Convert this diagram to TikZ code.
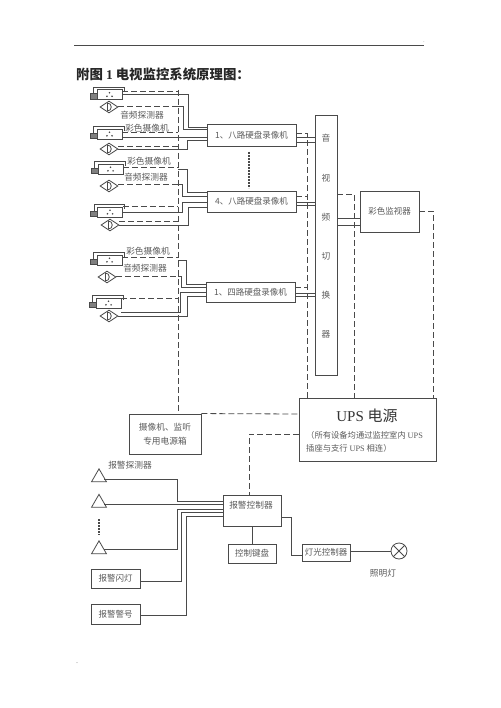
\documentclass[tikz,border=0pt]{standalone}
\usepackage{fontspec}
\setmainfont{Liberation Serif}
\newfontfamily\cjk{Noto Sans CJK SC}
\usetikzlibrary{positioning}
\usetikzlibrary{calc}
\usetikzlibrary{shapes.geometric}

\definecolor{ink}{HTML}{4A4A4A}
\definecolor{inktext}{HTML}{5A5A5A}

\tikzset{
    wire/.style={draw=ink, line width=0.8pt},
    power/.style={draw=ink, line width=0.8pt, dash pattern=on 6pt off 3pt},
    box/.style={draw=ink, line width=0.9pt, minimum width=#1, inner sep=0pt, text=inktext, font=\cjk\fontsize{8.5}{12}\selectfont, align=center},
    tag/.style={text=inktext, inner sep=0pt, font=\cjk\fontsize{8.7}{11}\selectfont},
    cambody/.style={draw=ink, line width=0.8pt, minimum width=25pt, minimum height=10pt, inner sep=0pt},
    micro/.style={diamond, draw=ink, line width=0.8pt, minimum width=18pt, minimum height=12pt, inner sep=0pt},
    sensor/.style={isosceles triangle, isosceles triangle apex angle=60, shape border rotate=90, draw=ink, line width=0.8pt, minimum height=13pt, inner sep=0pt},
}

% camera: name, x, y
\newcommand{\camera}[3]{
    \node [cambody] (#1) at (#2,#3) {};
    \begin{scope}[shift={(#2,#3)}]
        \draw [wire] (-16,-1) -- (-16,-7.5) -- (14.5,-7.5) -- (14.5,-3);
        \draw [wire, fill=ink!70] (-19.5,-1) rectangle (-12.5,4.5);
        \fill [ink] (0,-1.8) circle (0.9) (-2.6,1.8) circle (0.9) (2.6,1.8) circle (0.9);
    \end{scope}
}
% audio probe: name, x, y
\newcommand{\probe}[3]{
    \node [micro] (#1) at (#2,#3) {};
    \draw [wire] ($(#1)+(-1.5,-4)$) -- ($(#1)+(-1.5,4)$) .. controls ($(#1)+(3.5,4)$) and ($(#1)+(3.5,-4)$) .. cycle;
}

\begin{document}
\begin{tikzpicture}[x=1pt, y=-1pt]
    \useasboundingbox (0,0) rectangle (500,708);

    \coordinate (ruleL) at (74,45);
    \coordinate (ruleR) at (424,45);
    \draw [wire] (ruleL) -- (ruleR);
    \node [tag, font=\fontsize{5}{5}\selectfont] (markT) at (424,42) {.};
    \node [tag, font=\fontsize{5}{5}\selectfont] (markB) at (77,663) {..};
    \node [anchor=west, inner sep=0pt, text=black!85, font=\cjk\bfseries\fontsize{13.4}{15}\selectfont] (title) at (76,74) {附图 {\rmfamily 1} 电视监控系统原理图：};

    % cameras and probes
    \camera{cam1}{109.5}{94.5}
    \camera{cam2}{109.5}{134}
    \camera{cam3}{110.5}{169}
    \camera{cam4}{110}{212}
    \camera{cam5}{109.5}{260}
    \camera{cam6}{108.5}{303}
    \probe{mic1}{109}{107}
    \probe{mic2}{109}{149}
    \probe{mic3}{109}{186}
    \probe{mic4}{110}{225}
    \probe{mic5}{107}{277}
    \probe{mic6}{109}{316}

    \node [tag] (lab1) at (142,115) {音频探测器};
    \node [tag] (lab2) at (147,128) {彩色摄像机};
    \node [tag] (lab3) at (149,161) {彩色摄像机};
    \node [tag] (lab4) at (146,177) {音频探测器};
    \node [tag] (lab5) at (148,251) {彩色摄像机};
    \node [tag] (lab6) at (145,268) {音频探测器};

    % recorders
    \node [box=89pt, minimum height=22pt] (rec1) at (251.5,135) {1、八路硬盘录像机};
    \node [box=89pt, minimum height=21pt] (rec2) at (251.5,201.5) {4、八路硬盘录像机};
    \node [box=89pt, minimum height=20pt] (rec3) at (250.5,292) {1、四路硬盘录像机};
    \coordinate (dotsT) at (249,152);
    \coordinate (dotsB) at (249,188);
    \draw [ink, line width=2pt, dash pattern=on 1.6pt off 1.4pt] (dotsT) -- (dotsB);

    % switcher
    \node [box=22pt, minimum height=260pt] (switcher) at (326,245) {};
    \foreach \ch/\yy in {音/138, 视/178, 频/217, 切/256, 换/295, 器/334}
        \node [tag] (sw\yy) at (326,\yy) {\ch};

    \node [box=59pt, minimum height=41pt] (monitor) at (389.5,211.5) {彩色监视器};
    \node [box=72pt, minimum height=40pt, font=\cjk\fontsize{8.7}{14}\selectfont] (supply) at (165,434) {摄像机、监听\\专用电源箱};
    \node [box=137pt, minimum height=63pt] (ups) at (367.5,429.5) {};
    \node [text=black!80, inner sep=0pt, font=\fontsize{15}{17}\selectfont] (upstitle) at (367,416) {UPS {\cjk 电源}};
    \node [tag, anchor=west, font=\cjk\fontsize{8.3}{10}\selectfont] (upsnote1) at (306,435) {（所有设备均通过监控室内 {\rmfamily UPS}};
    \node [tag, anchor=west, font=\cjk\fontsize{8.3}{10}\selectfont] (upsnote2) at (306,448) {插座与支行 {\rmfamily UPS} 相连）};

    % where lines leave the dashed bus
    \coordinate (bus1) at (178,106);
    \coordinate (bus3) at (178,169);
    \coordinate (bus4) at (178,184.5);
    \coordinate (bus5) at (178,260);
    \coordinate (bus6) at (178,276);

    % solid signal lines
    \draw [wire] (cam1.east) -| (188,127) -- (rec1.west |- 0,127);
    \draw [wire] (bus1) -| (183,129.5) -- (rec1.west |- 0,129.5);
    \draw [wire] (cam2.east |- 0,137) -- (rec1.west |- 0,137);
    \draw [wire] (mic2.east) -| (187,140) -- (rec1.west |- 0,140);
    \draw [wire] (bus3) -| (187,192) -- (rec2.west |- 0,192);
    \draw [wire] (bus4) -| (182,196) -- (rec2.west |- 0,196);
    \draw [wire] (cam4.east) -| (182,202) -- (rec2.west |- 0,202);
    \draw [wire] (mic4.east) -| (188,207) -- (rec2.west |- 0,207);
    \draw [wire] (bus5) -| (186,284) -- (rec3.west |- 0,284);
    \draw [wire] (bus6) -| (181,287) -- (rec3.west |- 0,287);
    \draw [wire] (cam6.east |- 0,312) -| (180,292) -- (rec3.west |- 0,292);
    \draw [wire] (mic6.east) -| (187,296) -- (rec3.west |- 0,296);

    % recorders to switcher, switcher to monitor
    \foreach \yy in {137,142} \draw [wire] (rec1.east |- 0,\yy) -- (switcher.west |- 0,\yy);
    \foreach \yy in {202,205} \draw [wire] (rec2.east |- 0,\yy) -- (switcher.west |- 0,\yy);
    \foreach \yy in {293,296} \draw [wire] (rec3.east |- 0,\yy) -- (switcher.west |- 0,\yy);
    \foreach \yy in {218,225} \draw [wire] (switcher.east |- 0,\yy) -- (monitor.west |- 0,\yy);

    % dashed power lines
    \draw [power] (cam1.north east |- 0,91) -- (178,91);
    \draw [power] (mic1.east |- 0,106) -- (bus1);
    \draw [power] (cam2.north east |- 0,132) -- (178,132);
    \draw [power] (mic2.east |- 0,146) -- (178,146);
    \draw [power] (cam3.north east |- 0,167) -- (178,167);
    \draw [power] (mic3.east |- 0,184.5) -- (bus4);
    \draw [power] (cam4.north east |- 0,206) -- (178,206);
    \draw [power] (mic4.east |- 0,221) -- (178,221);
    \draw [power] (cam5.north east |- 0,257) -- (178,257);
    \draw [power] (mic5.east |- 0,276) -- (bus6);
    \draw [power] (cam6.north east |- 0,298) -- (178,298);
    \draw [power] (178,90) -- (supply.north -| 178,0);
    \draw [power] (rec1.east |- 0,133) -| (ups.north -| 307,0);
    \draw [power] (rec2.east |- 0,196) -- (307,196);
    \draw [power] (rec3.east |- 0,287) -- (307,287);
    \draw [power] (switcher.east |- 0,194) -| (ups.north -| 354,0);
    \draw [power] (monitor.east |- 0,211) -| (ups.north -| 433,0);
    \draw [power] (supply.north east) -- (ups.west |- 0,414);
    \draw [power] (ups.west |- 0,434) -| (249,495);

    % alarm part
    \node [box=58pt, minimum height=31pt] (alarm) at (252,510.5) {};
    \node [tag] (alarmtext) at (251,505) {报警控制器};
    \node [box=48pt, minimum height=19pt] (keyboard) at (252,553.5) {控制键盘};
    \node [box=48pt, minimum height=17pt] (lightctl) at (326,552.5) {灯光控制器};
    \node [box=49pt, minimum height=19pt] (flash) at (115.5,578.5) {报警闪灯};
    \node [box=49pt, minimum height=20pt] (horn) at (115.5,614) {报警警号};
    \node [sensor] (det1) at (99,477.5) {};
    \node [sensor] (det2) at (99,503) {};
    \node [sensor] (det3) at (99,549.5) {};
    \node [tag] (dettext) at (130,465) {报警探测器};
    \coordinate (adotsT) at (99,519);
    \coordinate (adotsB) at (99,535);
    \draw [ink, line width=2pt, dash pattern=on 1.6pt off 1.4pt] (adotsT) -- (adotsB);
    \node [circle, draw=ink, line width=0.8pt, minimum size=16pt, inner sep=0pt] (lamp) at (399,551) {};
    \draw [wire] (lamp.north west) -- (lamp.south east) (lamp.north east) -- (lamp.south west);
    \node [tag] (lamptext) at (383,573) {照明灯};

    \draw [wire] (det1.east |- 0,479) -| (177,501) -- (alarm.west |- 0,501);
    \draw [wire] (det2.east |- 0,504) -- (alarm.west |- 0,504);
    \draw [wire] (det3.east |- 0,549) -| (177,509) -- (alarm.west |- 0,509);
    \draw [wire] (flash.east |- 0,581) -| (181,512) -- (alarm.west |- 0,512);
    \draw [wire] (horn.east |- 0,615) -| (186,516) -- (alarm.west |- 0,516);
    \draw [wire] (alarm.south) -- (keyboard.north);
    \draw [wire] (alarm.east |- 0,517) -| (291,555) -- (lightctl.west |- 0,555);
    \draw [wire] (lightctl.east |- lamp.west) -- (lamp.west);
\end{tikzpicture}
\end{document}
